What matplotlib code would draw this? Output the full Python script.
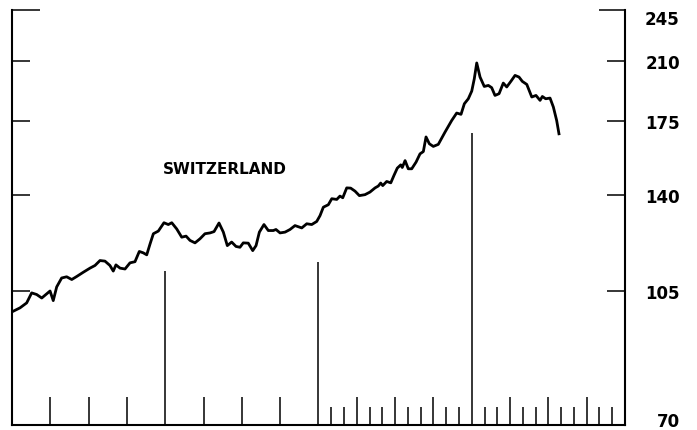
import matplotlib
matplotlib.use("Agg")
import matplotlib.pyplot as plt
from matplotlib.transforms import ScaledTranslation

# months since start of the 4-year window, index values (log scale)
months = [0.00, 0.63, 1.15, 1.54, 1.93, 2.33, 2.72, 2.98, 3.23, 3.50,
          3.89, 4.28, 4.68, 5.07, 5.58, 6.11, 6.50, 6.89, 7.28, 7.67,
          7.93, 8.14, 8.46, 8.85, 9.24, 9.63, 9.97, 10.28, 10.55, 10.81,
          11.07, 11.46, 11.90, 12.24, 12.51, 12.90, 13.29, 13.63, 13.94, 14.33,
          14.72, 15.11, 15.51, 15.82, 16.21, 16.55, 16.86, 17.20, 17.54, 17.85,
          18.11, 18.50, 18.85, 19.11, 19.37, 19.73, 20.07, 20.46, 20.67, 20.99,
          21.38, 21.77, 22.16, 22.69, 23.08, 23.47, 23.86, 24.12, 24.38, 24.77,
          25.04, 25.43, 25.68, 25.90, 26.21, 26.52, 26.86, 27.20, 27.64, 28.03,
          28.43, 28.68, 28.87, 29.03, 29.34, 29.66, 29.91, 30.17, 30.44, 30.56,
          30.78, 31.03, 31.30, 31.64, 31.95, 32.21, 32.42, 32.68, 32.99, 33.38,
          33.91, 34.43, 34.82, 35.16, 35.42, 35.73, 36.00, 36.20, 36.39, 36.65,
          36.98, 37.30, 37.56, 37.82, 38.14, 38.47, 38.74, 39.08, 39.39, 39.70,
          39.96, 40.31, 40.70, 41.03, 41.35, 41.53, 41.79, 42.13, 42.39, 42.65,
          42.83]
index = [98.5, 99.7, 101.2, 104.3, 103.8, 102.7, 104.0, 104.9, 101.9, 106.2,
         109.1, 109.5, 108.6, 109.6, 111.0, 112.4, 113.3, 115.0, 114.8, 113.3,
         111.4, 113.5, 112.4, 112.1, 114.2, 114.6, 118.2, 117.7, 117.0, 120.9,
         124.7, 125.7, 128.9, 128.2, 128.9, 126.5, 123.4, 123.8, 122.2, 121.3,
         122.8, 124.7, 125.0, 125.5, 128.8, 125.3, 120.3, 121.6, 120.0, 119.7,
         121.3, 121.2, 118.5, 120.3, 125.3, 128.2, 125.9, 125.9, 126.3, 125.0,
         125.3, 126.3, 127.8, 126.9, 128.5, 128.2, 129.4, 131.7, 135.1, 136.1,
         138.6, 138.3, 139.7, 139.0, 143.2, 143.1, 141.8, 139.9, 140.3, 141.4,
         143.2, 144.0, 145.3, 144.2, 146.0, 145.4, 148.7, 152.0, 153.5, 152.3,
         155.5, 151.7, 151.7, 154.8, 158.7, 159.8, 167.0, 163.6, 162.3, 163.3,
         169.5, 175.5, 179.5, 178.8, 184.6, 187.4, 191.8, 199.1, 208.8, 200.1,
         194.5, 195.1, 193.8, 189.3, 190.3, 196.5, 194.2, 197.7, 201.1, 200.1,
         197.5, 195.7, 188.4, 189.3, 186.5, 188.7, 187.4, 187.8, 182.8, 175.5,
         168.6]

year_marks = [12, 24, 36]
year_mark_tops = [111.5, 114.5, 169.1]
quarter_ticks = [3, 6, 9, 15, 18, 21, 27, 30, 33, 39, 42, 45]
month_ticks = [m for m in range(25, 48) if m % 3 != 0]
y_ticks = [70, 105, 140, 175, 210, 245]

fig = plt.figure(figsize=(6.97, 4.31), dpi=100)
ax = fig.add_axes([0.0172, 0.0116, 0.8795, 0.9629])

ax.plot(months, index, color="black", lw=2.0, solid_joinstyle="round")
ax.vlines(year_marks, 70, year_mark_tops, color="black", lw=1.1)

ax.set_yscale("log")
ax.set_xlim(0, 48)
ax.set_ylim(70, 245)

ax.set_xticks(quarter_ticks)
ax.set_xticks(month_ticks, minor=True)
ax.tick_params(axis="x", which="major", direction="in", length=20, width=1.1,
               labelbottom=False)
ax.tick_params(axis="x", which="minor", direction="in", length=13, width=1.1,
               labelbottom=False)

ax.set_yticks(y_ticks)
ax.set_yticklabels([str(v) for v in y_ticks])
ax.yaxis.set_minor_locator(matplotlib.ticker.NullLocator())
ax.tick_params(axis="y", which="major", direction="in", length=13, width=1.1,
               left=True, right=True, labelleft=False, labelright=True,
               labelsize=12, pad=39.5)
for lbl in ax.get_yticklabels():
    lbl.set_horizontalalignment("right")
    lbl.set_fontweight("bold")

# longer tick at the top value
top_tick = ax.yaxis.get_major_ticks()[-1]
top_tick.tick1line.set_markersize(20)
top_tick.tick2line.set_markersize(19)

# nudge end labels inward as in the original
labels = ax.get_yticklabels()
labels[-1].set_transform(labels[-1].get_transform()
                         + ScaledTranslation(0, -0.07, fig.dpi_scale_trans))
labels[0].set_transform(labels[0].get_transform()
                        + ScaledTranslation(0, 0.06, fig.dpi_scale_trans))

for side in ["left", "right", "bottom"]:
    ax.spines[side].set_linewidth(1.5)
ax.spines["top"].set_visible(False)

ax.text(0.2463, 0.617, "SWITZERLAND", transform=ax.transAxes,
        fontsize=11, fontweight="bold", va="center", ha="left")

fig.savefig("out.png", dpi=100)
